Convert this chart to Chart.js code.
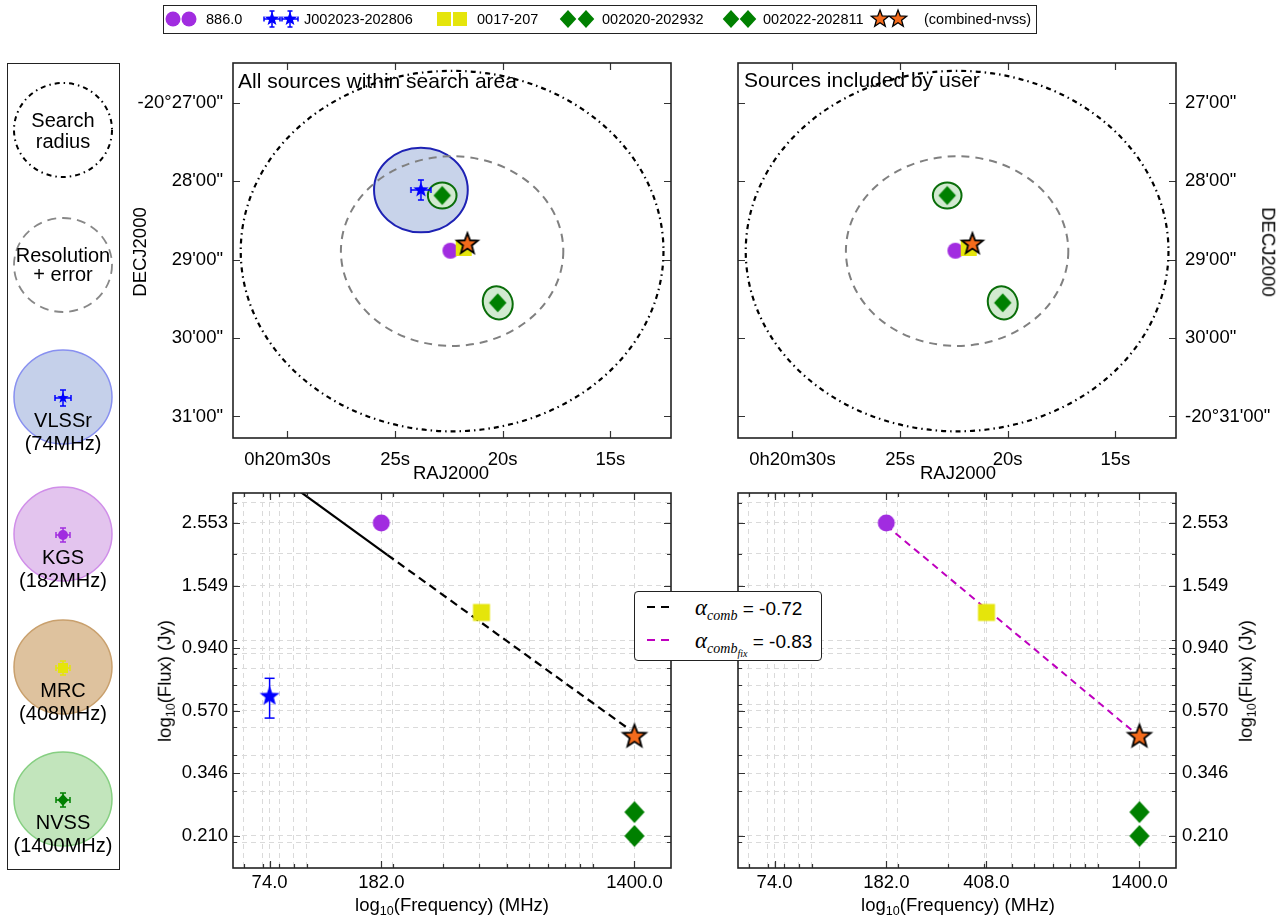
<!DOCTYPE html>
<html>
<head>
<meta charset="utf-8">
<title>Source matching: sky positions and spectrum</title>
<script src="https://cdn.jsdelivr.net/npm/chart.js@4.4.1/dist/chart.umd.min.js"></script>
<style>
  body { margin: 0; background: #fff; font-family: 'Liberation Sans', Arial, sans-serif; color: #000; }
  #page { position: relative; width: 1285px; height: 921px; overflow: hidden; }
  .plot { position: absolute; }
  .box { position: absolute; box-sizing: border-box; border: 1.5px solid #222; background: #fff; }
  .lbl { position: absolute; white-space: nowrap; font-size: 18.5px; line-height: 1; transform: translate(-50%, -50%); }
  .left { transform: translate(0, -50%); }
  .rotL { transform: translate(-50%, -50%) rotate(-90deg); }
  .rotR { transform: translate(-50%, -50%) rotate(90deg); }
  .lo { font-size: 0.68em; position: relative; top: 0.3em; }
  .math { font-family: 'Liberation Serif', 'DejaVu Serif', serif; font-style: italic; }
</style>
</head>
<body>
<div id="page">
  <div class="box" style="left:163px;top:5px;width:874px;height:29px;"></div>
  <div class="box" style="left:7px;top:63px;width:113px;height:807px;"></div>
  <canvas id="surveyKey" class="plot" width="113" height="807" style="left:7px;top:63px"></canvas>
  <canvas id="skyAll" class="plot" width="560" height="435" style="left:130px;top:55px"></canvas>
  <canvas id="skyUser" class="plot" width="585" height="435" style="left:700px;top:55px"></canvas>
  <canvas id="sedAll" class="plot" width="560" height="436" style="left:130px;top:485px"></canvas>
  <canvas id="sedUser" class="plot" width="585" height="436" style="left:700px;top:485px"></canvas>
  <div class="box" id="fitBox" style="left:634px;top:591px;width:188px;height:70px;border-radius:4px;"></div>
</div>
<script>
// ---- sources ----
const sourceNames = ['886.0', 'J002023-202806', '0017-207', '002020-202932', '002022-202811', '(combined-nvss)'];
// position: RA seconds after 0h20m, Dec arcmin after -20deg
const sourceRa = [22.43, 23.80, 21.81, 20.23, 22.81, 21.64];
const sourceDec = [28.885, 28.11, 28.85, 29.55, 28.18, 28.80];
// error ellipse semi-axes in arcmin (RA, Dec) and tilt in degrees, 0 = none drawn
const errRa = [0, 0.51, 0, 0.16, 0.156, 0];
const errDec = [0, 0.54, 0, 0.215, 0.166, 0];
const errTilt = [0, 0, 0, -20, 0, 0];
const includedByUser = [true, false, true, true, true, true];

// spectrum
const sourceFreq = [182, 74, 408, 1400, 1400, 1400];
const sourceFlux = [2.553, 0.64, 1.25, 0.254, 0.210, 0.464];
const fluxErrLow = [null, 0.538, null, null, null, null];
const fluxErrHigh = [null, 0.739, null, null, null, null];

const searchCentre = [22.35, 28.89];
const searchRadius = 2.3;      // arcmin
const resolutionRadius = 1.21; // arcmin

// fitted lines (end points)
const combSolidFreq = [93, 191];
const combSolidFlux = [3.32, 1.98];
const combDashFreq = [191, 1350];
const combDashFlux = [1.98, 0.49];
const fixFreq = [182, 1400];
const fixFlux = [2.50, 0.464];
const alphaComb = '-0.72';
const alphaFix = '-0.83';

// axes
const raRange = [12.18, 32.53];
const decRange = [26.49, 31.275];
const freqRange = [55.1, 1879];
const fluxRange = [0.1626, 3.243];
const raTicks = [30, 25, 20, 15];
const raTickLabels = ['0h20m30s', '25s', '20s', '15s'];
const decTicks = [27, 28, 29, 30, 31];
const decLabelsLeft = ['-20°27\'00"', '28\'00"', '29\'00"', '30\'00"', '31\'00"'];
const decLabelsRight = ['27\'00"', '28\'00"', '29\'00"', '30\'00"', '-20°31\'00"'];
const freqTicksAll = [74, 182, 1400];
const freqTicksUser = [74, 182, 408, 1400];
const freqMinor = [60, 70, 80, 90, 100, 200, 300, 400, 500, 600, 700, 800, 900, 1000];
const fluxTicks = [2.553, 1.549, 0.940, 0.570, 0.346, 0.210];
const fluxMinor = [0.2, 0.3, 0.4, 0.5, 0.6, 0.7, 0.8, 0.9, 1, 2, 3];

const surveyNames = ['VLSSr', 'KGS', 'MRC', 'NVSS'];
const surveyFreqText = ['(74MHz)', '(182MHz)', '(408MHz)', '(1400MHz)'];

// ---- styles ----
const FONT = "'Liberation Sans', Arial, sans-serif";
const srcColor = ['#a12ce0', '#0000ff', '#e5e50b', '#008000', '#008000', '#f46b1c'];
const ellFill = [null, '#c8d3ea', null, '#d2ead0', '#d2ead0', null];
const ellEdge = [null, '#1e22b4', null, '#0a6e0a', '#0a6e0a', null];
const GRID = '#dadada';

Chart.defaults.font.family = FONT;
Chart.defaults.font.size = 18.5;
Chart.defaults.color = '#000';
Chart.defaults.animation = false;
Chart.defaults.events = [];
Chart.defaults.plugins.legend.display = false;
Chart.defaults.plugins.tooltip.enabled = false;

function marker(shape, r, fill, opts = {}) {
  const err = opts.err || 0, lw = opts.lw || 0;
  const half = Math.ceil(Math.max(r, err) + lw + 3);
  const c = document.createElement('canvas');
  c.width = c.height = half * 2;
  const g = c.getContext('2d');
  g.translate(half, half);
  if (err) {
    const cap = opts.cap || 3;
    g.strokeStyle = fill;
    g.lineWidth = 1.5;
    g.beginPath();
    g.moveTo(-err, 0); g.lineTo(err, 0); g.moveTo(0, -err); g.lineTo(0, err);
    g.moveTo(-err, -cap); g.lineTo(-err, cap); g.moveTo(err, -cap); g.lineTo(err, cap);
    g.moveTo(-cap, -err); g.lineTo(cap, -err); g.moveTo(-cap, err); g.lineTo(cap, err);
    g.stroke();
  }
  g.beginPath();
  if (shape === 'circle') g.arc(0, 0, r, 0, Math.PI * 2);
  else if (shape === 'square') g.rect(-r, -r, 2 * r, 2 * r);
  else if (shape === 'diamond') {
    g.moveTo(0, -r); g.lineTo(r * 0.92, 0); g.lineTo(0, r); g.lineTo(-r * 0.92, 0);
  } else if (shape === 'star') {
    for (let k = 0; k < 10; k++) {
      const a = -Math.PI / 2 + k * Math.PI / 5;
      const rr = k % 2 ? r * 0.42 : r;
      g.lineTo(Math.cos(a) * rr, Math.sin(a) * rr);
    }
  }
  g.closePath();
  g.fillStyle = fill;
  g.fill();
  if (lw) { g.lineWidth = lw; g.strokeStyle = '#000'; g.lineJoin = 'miter'; g.stroke(); }
  return c;
}

const skyMarkers = [
  marker('circle', 8, srcColor[0]),
  marker('star', 8, srcColor[1], { err: 10, cap: 3 }),
  marker('square', 8, srcColor[2]),
  marker('diamond', 9.5, srcColor[3]),
  marker('diamond', 9.5, srcColor[4]),
  marker('star', 11, srcColor[5], { lw: 1.8 })
];
const sedMarkers = [
  marker('circle', 8.5, srcColor[0]),
  marker('star', 10.5, srcColor[1]),
  marker('square', 8.5, srcColor[2]),
  marker('diamond', 11, srcColor[3]),
  marker('diamond', 11, srcColor[4]),
  marker('star', 12, srcColor[5], { lw: 1.8 })
];
const keyMarkers = [
  marker('circle', 7.5, srcColor[0]),
  marker('star', 7.5, srcColor[1], { err: 8, cap: 2.5 }),
  marker('square', 7, srcColor[2]),
  marker('diamond', 9, srcColor[3]),
  marker('diamond', 9, srcColor[4]),
  marker('star', 9, srcColor[5], { lw: 1.3 })
];

const arcminPerSec = 0.25 * Math.cos((20 + searchCentre[1] / 60) * Math.PI / 180);

// ellipses and circles of each sky panel, looked up by canvas id
const skyShapeLists = {};
const skyShapes = {
  id: 'skyShapes',
  beforeDatasetsDraw(chart) {
    const { ctx, chartArea: a, scales: { x, y } } = chart;
    ctx.save();
    ctx.beginPath();
    ctx.rect(a.left, a.top, a.width, a.height);
    ctx.clip();
    for (const e of skyShapeLists[chart.canvas.id]) {
      const cx = x.getPixelForValue(e.ra), cy = y.getPixelForValue(e.dec);
      const rx = Math.abs(x.getPixelForValue(e.ra + e.a / arcminPerSec) - cx);
      const ry = Math.abs(y.getPixelForValue(e.dec + e.b) - cy);
      ctx.beginPath();
      ctx.ellipse(cx, cy, rx, ry, e.tilt * Math.PI / 180, 0, Math.PI * 2);
      if (e.fill) { ctx.fillStyle = e.fill; ctx.fill(); }
      ctx.setLineDash(e.dash || []);
      ctx.lineWidth = e.lw;
      ctx.strokeStyle = e.edge;
      ctx.stroke();
    }
    ctx.restore();
  }
};

// box round the plot with inward ticks on all sides
const frame = {
  id: 'frame',
  afterDatasetsDraw(chart, args, opts) {
    const { ctx, chartArea: a, scales: { x, y } } = chart;
    ctx.save();
    ctx.strokeStyle = '#333';
    ctx.lineWidth = 1.2;
    ctx.beginPath();
    x.ticks.forEach(t => {
      const len = opts.xMajor.includes(t.value) ? 7 : 4;
      const p = Math.round(x.getPixelForValue(t.value)) + 0.5;
      ctx.moveTo(p, a.bottom); ctx.lineTo(p, a.bottom - len);
      ctx.moveTo(p, a.top); ctx.lineTo(p, a.top + len);
    });
    y.ticks.forEach(t => {
      const len = opts.yMajor.includes(t.value) ? 7 : 4;
      const p = Math.round(y.getPixelForValue(t.value)) + 0.5;
      ctx.moveTo(a.left, p); ctx.lineTo(a.left + len, p);
      ctx.moveTo(a.right, p); ctx.lineTo(a.right - len, p);
    });
    ctx.stroke();
    ctx.lineWidth = 1.6;
    ctx.strokeStyle = '#222';
    ctx.strokeRect(a.left, a.top, a.width, a.height);
    ctx.restore();
  }
};

// fixed axis sizes so every plot box lands in the same place
function fixSize(size) {
  return s => {
    if (s.isHorizontal()) s.height = size; else s.width = size;
    s.paddingTop = 0; s.paddingBottom = 0; s.paddingLeft = 0; s.paddingRight = 0;
  };
}

function skyChart(id, side, showAll) {
  const idx = sourceNames.map((_, i) => i).filter(i => showAll || includedByUser[i]);
  const items = [];
  idx.forEach(i => {
    if (!errRa[i]) return;
    items.push({ ra: sourceRa[i], dec: sourceDec[i], a: errRa[i], b: errDec[i], tilt: errTilt[i],
      fill: ellFill[i], edge: ellEdge[i], lw: 2 });
  });
  items.push({ ra: searchCentre[0], dec: searchCentre[1], a: resolutionRadius, b: resolutionRadius,
    tilt: 0, fill: null, edge: '#808080', lw: 2, dash: [8, 6] });
  items.push({ ra: searchCentre[0], dec: searchCentre[1], a: searchRadius, b: searchRadius,
    tilt: 0, fill: null, edge: '#000', lw: 2.2, dash: [5, 4, 1.5, 4] });
  skyShapeLists[id] = items;

  const decLabels = side === 'left' ? decLabelsLeft : decLabelsRight;
  return new Chart(document.getElementById(id), {
    type: 'scatter',
    data: {
      datasets: idx.map(i => ({
        data: [{ x: sourceRa[i], y: sourceDec[i] }],
        pointStyle: skyMarkers[i], pointRadius: 6, order: 10 - i
      }))
    },
    options: {
      responsive: false,
      layout: { padding: side === 'left' ? { top: 8, right: 19 } : { top: 8, left: 38 } },
      scales: {
        x: {
          type: 'linear', reverse: true, min: raRange[0], max: raRange[1],
          afterBuildTicks: ax => { ax.ticks = raTicks.map(v => ({ value: v })); },
          afterFit: fixSize(52),
          ticks: { autoSkip: false, maxRotation: 0, padding: 11,
            callback: v => raTickLabels[raTicks.indexOf(v)] },
          grid: { display: false, drawTicks: false },
          border: { display: false }
        },
        y: {
          type: 'linear', reverse: true, position: side, min: decRange[0], max: decRange[1],
          afterBuildTicks: ax => { ax.ticks = decTicks.map(v => ({ value: v })); },
          afterFit: fixSize(side === 'left' ? 103 : 109),
          ticks: { autoSkip: false, padding: side === 'left' ? 10 : 9,
            callback: v => decLabels[decTicks.indexOf(v)] },
          grid: { display: false, drawTicks: false },
          border: { display: false }
        }
      },
      plugins: { frame: { xMajor: raTicks, yMajor: decTicks } }
    },
    plugins: [skyShapes, frame]
  });
}

function pts(xs, ys) { return xs.map((v, k) => ({ x: v, y: ys[k] })); }

function sedChart(id, side, showAll) {
  const idx = sourceNames.map((_, i) => i).filter(i => showAll || includedByUser[i]);
  const freqMajor = showAll ? freqTicksAll : freqTicksUser;
  const datasets = idx.map(i => ({
    data: [{ x: sourceFreq[i], y: sourceFlux[i] }],
    pointStyle: sedMarkers[i], pointRadius: 6, order: 10 - i
  }));
  idx.forEach(i => {
    if (fluxErrLow[i] == null) return;
    datasets.push({
      data: [{ x: sourceFreq[i], y: fluxErrLow[i] }, { x: sourceFreq[i], y: fluxErrHigh[i] }],
      showLine: true, borderColor: srcColor[i], borderWidth: 1.5,
      pointStyle: 'line', pointRadius: 5, pointBorderColor: srcColor[i], pointBorderWidth: 1.5,
      order: 15
    });
  });
  if (showAll) {
    datasets.push({ data: pts(combSolidFreq, combSolidFlux), showLine: true, borderColor: '#000',
      borderWidth: 2.2, pointRadius: 0, order: 20 });
    datasets.push({ data: pts(combDashFreq, combDashFlux), showLine: true, borderColor: '#000',
      borderWidth: 2.2, borderDash: [8, 5], pointRadius: 0, order: 20 });
  } else {
    datasets.push({ data: pts(fixFreq, fixFlux), showLine: true, borderColor: '#bf00bf',
      borderWidth: 2, borderDash: [7, 5], pointRadius: 0, order: 20 });
  }
  return new Chart(document.getElementById(id), {
    type: 'scatter',
    data: { datasets },
    options: {
      responsive: false,
      layout: { padding: side === 'left' ? { top: 8, right: 19 } : { top: 8, left: 38 } },
      scales: {
        x: {
          type: 'logarithmic', min: freqRange[0], max: freqRange[1],
          afterBuildTicks: ax => {
            ax.ticks = [...freqMinor, ...freqMajor].sort((a, b) => a - b).map(v => ({ value: v }));
          },
          afterFit: fixSize(53),
          ticks: { autoSkip: false, maxRotation: 0, padding: 4,
            callback: v => freqMajor.includes(v) ? v.toFixed(1) : '' },
          grid: { color: GRID, lineWidth: 1, drawTicks: false },
          border: { display: false, dash: [5, 4] }
        },
        y: {
          type: 'logarithmic', position: side, min: fluxRange[0], max: fluxRange[1],
          afterBuildTicks: ax => {
            ax.ticks = [...fluxMinor, ...fluxTicks].sort((a, b) => a - b).map(v => ({ value: v }));
          },
          afterFit: fixSize(side === 'left' ? 103 : 109),
          ticks: { autoSkip: false, padding: side === 'left' ? 5 : 6,
            callback: v => fluxTicks.includes(v) ? v.toFixed(3) : '' },
          grid: { color: GRID, lineWidth: 1, drawTicks: false },
          border: { display: false, dash: [5, 4] }
        }
      },
      plugins: { frame: { xMajor: freqMajor, yMajor: fluxTicks } }
    },
    plugins: [frame]
  });
}

skyChart('skyAll', 'left', true);
skyChart('skyUser', 'right', false);
sedChart('sedAll', 'left', true);
sedChart('sedUser', 'right', false);

// ---- text and keys ----
const page = document.getElementById('page');
function label(html, x, y, cls, style) {
  const d = document.createElement('div');
  d.className = 'lbl ' + (cls || '');
  d.innerHTML = html;
  d.style.left = x + 'px';
  d.style.top = y + 'px';
  Object.assign(d.style, style || {});
  page.appendChild(d);
  return d;
}
function place(img, x, y) {
  const c = document.createElement('canvas');
  c.width = img.width; c.height = img.height;
  c.getContext('2d').drawImage(img, 0, 0);
  c.style.position = 'absolute';
  c.style.left = (x - img.width / 2) + 'px';
  c.style.top = (y - img.height / 2) + 'px';
  page.appendChild(c);
}

label('All sources within search area', 238, 80, 'left', { fontSize: '21px' });
label('Sources included by user', 744, 79, 'left', { fontSize: '21px' });
label('DECJ2000', 140, 252, 'rotL');
label('DECJ2000', 1268, 252, 'rotR');
label('RAJ2000', 451, 473);
label('RAJ2000', 958, 473);
const fluxTitle = 'log<span class="lo">10</span>(Flux) (Jy)';
const freqTitle = 'log<span class="lo">10</span>(Frequency) (MHz)';
label(fluxTitle, 165, 681, 'rotL');
label(fluxTitle, 1246, 681, 'rotL');
label(freqTitle, 452, 905);
label(freqTitle, 958, 905);

// top key: two markers per source then its name
const keyPairs = [[173, 189], [272, 290], [444, 460], [568, 586], [731, 748], [880, 898]];
const keyText = [206, 304, 477, 602, 763, 924];
sourceNames.forEach((name, i) => {
  keyPairs[i].forEach(x => place(keyMarkers[i], x, 19));
  label(name, keyText[i], 19, 'left', { fontSize: '14.5px' });
});

// survey key column
const sk = document.getElementById('surveyKey').getContext('2d');
function keyEllipse(cy, fill, edge, dash, lw) {
  sk.beginPath();
  sk.ellipse(56, cy, 49, 47, 0, 0, Math.PI * 2);
  if (fill) { sk.fillStyle = fill; sk.fill(); }
  sk.setLineDash(dash || []);
  sk.lineWidth = lw;
  sk.strokeStyle = edge;
  sk.stroke();
  sk.setLineDash([]);
}
keyEllipse(130 - 63, null, '#000', [5, 4, 1.5, 4], 2);
keyEllipse(265 - 63, null, '#888', [9, 6], 1.8);
const surveyFill = ['#c5d0ea', '#e3c4ee', '#dec29e', '#c2e5bc'];
const surveyEdge = ['#8890f0', '#d08ee9', '#c9a06d', '#86cf82'];
const surveyCy = [397, 534, 667, 799];
surveyCy.forEach((cy, k) => keyEllipse(cy - 63, surveyFill[k], surveyEdge[k], null, 1.5));
const surveyMarkers = [
  marker('star', 6, srcColor[1], { err: 8, cap: 3 }),
  marker('circle', 5, srcColor[0], { err: 7, cap: 3 }),
  marker('square', 5, srcColor[2], { err: 7, cap: 3 }),
  marker('diamond', 6, srcColor[3], { err: 7, cap: 3 })
];
surveyCy.forEach((cy, k) => sk.drawImage(surveyMarkers[k], 56 - surveyMarkers[k].width / 2,
  cy - 63 + 1 - surveyMarkers[k].height / 2));

const keyFont = { fontSize: '20px' };
label('Search', 63, 120, '', keyFont);
label('radius', 63, 141, '', keyFont);
label('Resolution', 63, 255, '', keyFont);
label('+ error', 63, 274, '', keyFont);
surveyNames.forEach((n, k) => {
  label(n, 63, surveyCy[k] + 23, '', keyFont);
  label(surveyFreqText[k], 63, surveyCy[k] + 46, '', keyFont);
});

// fit legend
const fl = document.createElement('canvas');
fl.width = 40; fl.height = 70;
Object.assign(fl.style, { position: 'absolute', left: '640px', top: '591px' });
page.appendChild(fl);
const fg = fl.getContext('2d');
fg.lineWidth = 2.2;
fg.setLineDash([8, 6]);
fg.strokeStyle = '#000';
fg.beginPath(); fg.moveTo(7, 16); fg.lineTo(35, 16); fg.stroke();
fg.strokeStyle = '#bf00bf';
fg.beginPath(); fg.moveTo(7, 49); fg.lineTo(35, 49); fg.stroke();
label('<span class="math" style="font-size:23px">α</span><span class="math lo" style="font-size:14px;top:5px">comb</span> = ' + alphaComb,
  695, 607, 'left', { fontSize: '19px' });
label('<span class="math" style="font-size:23px">α</span><span class="math lo" style="font-size:14px;top:5px">comb<span style="font-size:10px;position:relative;top:4px">fix</span></span> = ' + alphaFix,
  695, 640, 'left', { fontSize: '19px' });
</script>
</body>
</html>
